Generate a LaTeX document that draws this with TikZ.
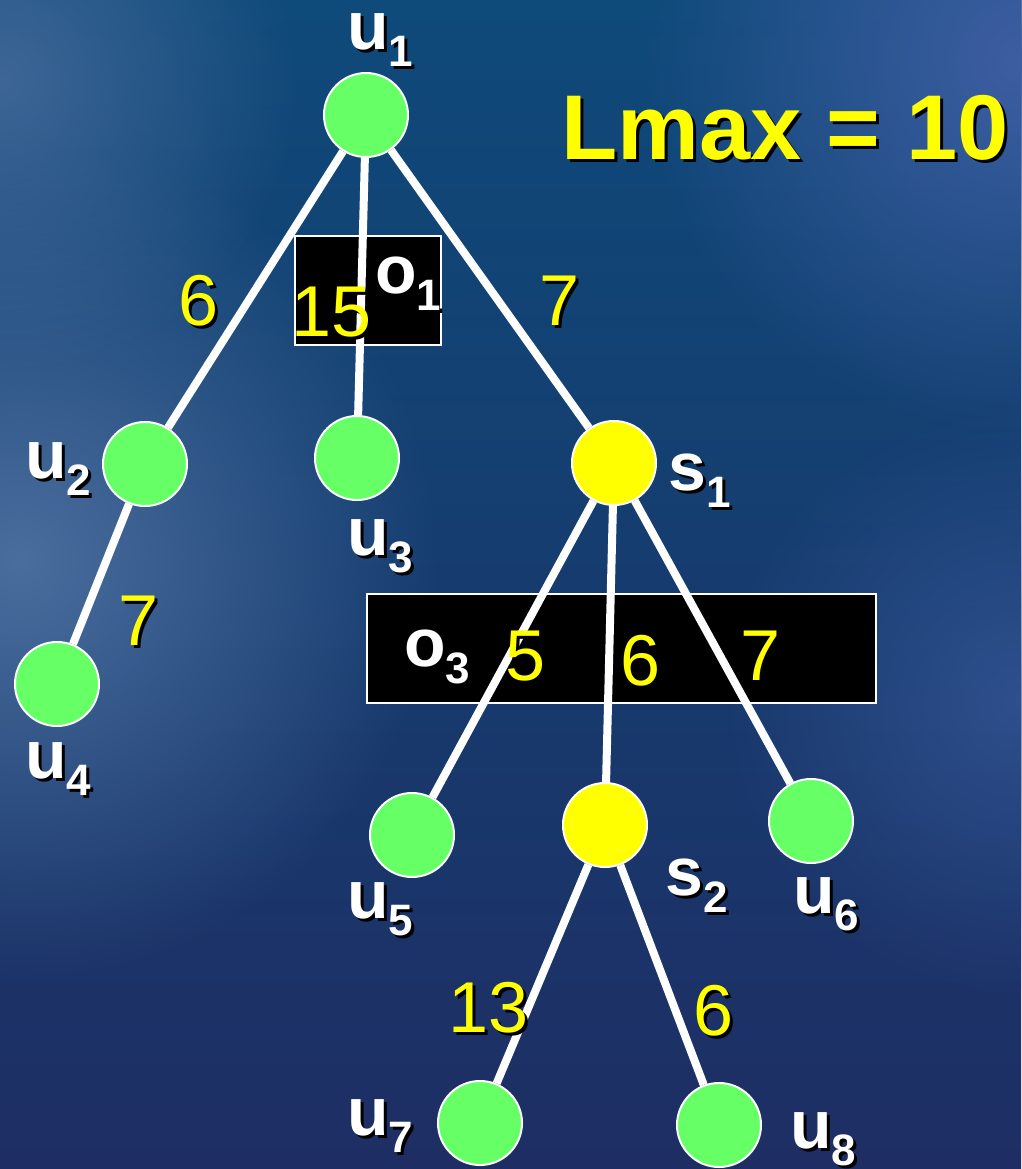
\documentclass[tikz,border=0pt]{standalone}
\usepackage{fontspec}
\setmainfont{Liberation Sans}
\usetikzlibrary{fadings}
\definecolor{bgtop}{HTML}{0E4A7A}
\definecolor{bgbot}{HTML}{1E2E64}
\definecolor{glowL}{HTML}{4A6E9E}
\definecolor{glowR}{HTML}{3E5EA2}
\definecolor{nodegreen}{HTML}{66FF66}
\definecolor{nodeyellow}{HTML}{FFFF00}
\tikzfading[name=glowfade, inner color=transparent!0, outer color=transparent!100]
\newcommand\sbs[1]{\raisebox{-17pt}{\fontsize{44}{50}\selectfont #1}}
\newcommand\shtxt[4]{%
  \node[#3, text=black, anchor=base west, xshift=3pt, yshift=-3pt] (#1sh) at (#2) {#4};
  \node[#3, anchor=base west] (#1) at (#2) {#4};}
\tikzset{
  vtx/.style={circle, draw=white, line width=2pt, minimum size=84pt, inner sep=0pt},
  gvtx/.style={vtx, fill=nodegreen},
  yvtx/.style={vtx, fill=nodeyellow},
  edge/.style={white, line width=8pt},
  obox/.style={draw=white, fill=black, line width=2pt, inner sep=0pt},
  lbl/.style={inner sep=0pt, text=white, font=\fontsize{68}{80}\selectfont\bfseries},
  wt/.style={inner sep=0pt, text=nodeyellow, font=\fontsize{72}{80}\selectfont},
  big/.style={inner sep=0pt, text=nodeyellow, font=\fontsize{92}{100}\selectfont\bfseries}
}
\begin{document}
\begin{tikzpicture}[x=1pt,y=-1pt]
\useasboundingbox (0,0) rectangle (1021,1169);
% background
\shade[top color=bgtop, bottom color=bgbot] (0,0) rectangle (1021,1169);
\fill[glowL, path fading=glowfade] (20,560) circle (420);
\fill[glowL, path fading=glowfade, opacity=0.8] (0,80) circle (300);
\fill[glowR, path fading=glowfade] (1021,60) circle (380);
\fill[glowR, path fading=glowfade, opacity=0.6] (1021,700) circle (300);
% boxes
\node[obox, minimum width=146pt, minimum height=109pt] (o1box) at (368,290.5) {};
\node[obox, minimum width=509pt, minimum height=109pt] (o3box) at (621.5,648.5) {};
% vertices
\node[gvtx] (u1) at (366,115) {};
\node[gvtx] (u2) at (145,464) {};
\node[gvtx] (u3) at (357,458) {};
\node[yvtx] (s1) at (614,463) {};
\node[gvtx] (u4) at (57,684) {};
\node[gvtx] (u5) at (412,835) {};
\node[yvtx] (s2) at (605,825) {};
\node[gvtx] (u6) at (811,821) {};
\node[gvtx] (u7) at (480,1123) {};
\node[gvtx] (u8) at (719,1125) {};
% edges
\draw[edge] (u1) -- (u2);
\draw[edge] (u1) -- (u3);
\draw[edge] (u1) -- (s1);
\draw[edge] (u2) -- (u4);
\draw[edge] (s1) -- (u5);
\draw[edge] (s1) -- (s2);
\draw[edge] (s1) -- (u6);
\draw[edge] (s2) -- (u7);
\draw[edge] (s2) -- (u8);
% vertex labels
\shtxt{lu1}{347,50}{lbl}{u\sbs{1}}
\shtxt{lu2}{25,478}{lbl}{u\sbs{2}}
\shtxt{lu3}{347,555}{lbl}{u\sbs{3}}
\shtxt{ls1}{668,490}{lbl}{s\sbs{1}}
\shtxt{lu4}{25,778}{lbl}{u\sbs{4}}
\shtxt{lu5}{347,918}{lbl}{u\sbs{5}}
\shtxt{ls2}{665,895}{lbl}{s\sbs{2}}
\shtxt{lu6}{793,913}{lbl}{u\sbs{6}}
\shtxt{lu7}{347,1135}{lbl}{u\sbs{7}}
\shtxt{lu8}{790,1148}{lbl}{u\sbs{8}}
% box labels
\shtxt{lo1}{375,293}{lbl}{o\sbs{1}}
\shtxt{lo3}{404,666}{lbl}{o\sbs{3}}
% weights
\shtxt{w12}{178,325}{wt}{6}
\shtxt{w1s}{539,325}{wt}{7}
\shtxt{w24}{118,645}{wt}{7}
\shtxt{w13}{291,336}{wt}{15}
\shtxt{ws5}{505,680}{wt}{5}
\shtxt{wss}{620,685}{wt}{6}
\shtxt{ws6}{740,680}{wt}{7}
\shtxt{w27}{448,1032}{wt}{13}
\shtxt{w28}{693,1035}{wt}{6}
% title
\shtxt{lmax}{561,160}{big}{Lmax = 10}
\end{tikzpicture}
\end{document}
